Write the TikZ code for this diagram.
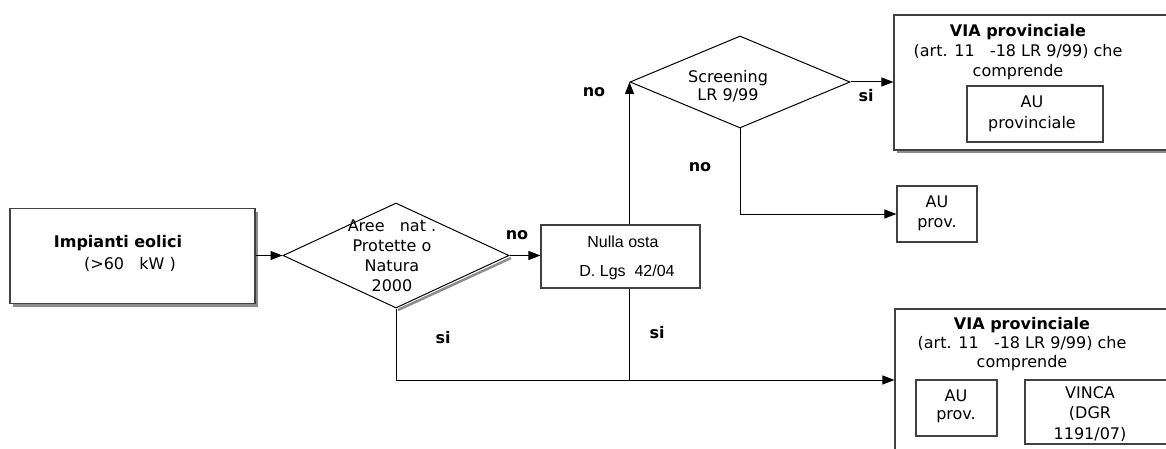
\documentclass[tikz,border=0pt]{standalone}
\usepackage{fontspec}
\setmainfont{DejaVu Sans}
\newfontfamily\arialf{Liberation Sans}
\usetikzlibrary{shapes.geometric,arrows.meta}
\begin{document}
\begin{tikzpicture}[x=1pt,y=-1pt,
  box/.style={draw=black!75, fill=white, line width=1.1pt, inner sep=0pt, rectangle},
  shade/.style={fill=black!45, draw=none},
  dia/.style={diamond, draw=black, fill=white, line width=1pt, inner sep=0pt, aspect=1},
  txt/.style={font=\fontsize{16}{20}\selectfont, align=center, inner sep=0pt},
  lbl/.style={font=\fontsize{16}{20}\selectfont\bfseries, inner sep=0pt},
  conn/.style={draw=black, line width=1pt},
  arr/.style={conn, -{Triangle[length=12pt,width=9pt]}}]
\useasboundingbox (0,0) rectangle (1166,449);
\clip (0,0) rectangle (1166,449);
% shadows
\fill[shade] (13,212) rectangle (258,307);
\draw[black!45, line width=2.5pt] (398,310) -- (511,258);
\fill[shade] (897,18) rectangle (1178,153);
% boxes
\node[box, minimum width=245, minimum height=95] (imp) at (132.5,256) {};
\node[dia, minimum width=226, minimum height=105] (d1) at (396,255.5) {};
\node[box, minimum width=159, minimum height=63] (nulla) at (620.5,256.5) {};
\node[dia, minimum width=220, minimum height=92] (d2) at (740,82) {};
\node[box, minimum width=281, minimum height=135] (topvia) at (1034.5,82.5) {};
\node[box, minimum width=136, minimum height=56] (topau) at (1035,114) {};
\node[box, minimum width=80, minimum height=56] (midau) at (937,214) {};
\node[box, minimum width=280, minimum height=142] (botvia) at (1035,380) {};
\node[box, minimum width=81, minimum height=56] (botau) at (956.5,408) {};
\node[box, minimum width=150, minimum height=64] (vinca) at (1100,412) {};
% texts
\node[txt] (impt1) at (118,243) {\textbf{Impianti eolici}};
\node[txt] (impt2) at (130,264) {(>60\ \ \ kW\ )};
\node[txt] (d1t) at (392,256) {Aree\ \ \ nat\ .\\Protette o\\Natura\\2000};
\node[txt, font=\arialf\fontsize{16}{20}\selectfont] (nullat1) at (623,242) {Nulla osta};
\node[txt, font=\arialf\fontsize{16}{20}\selectfont] (nullat2) at (627,272) {D. Lgs\ \ 42/04};
\node[txt, font=\fontsize{16}{18}\selectfont] (d2t) at (728,86) {Screening\\LR 9/99};
\node[txt] (topviat) at (1018,52) {\textbf{VIA provinciale}\\(art. 11\ \ \ -18 LR 9/99) che\\comprende};
\node[txt, font=\fontsize{16}{21}\selectfont] (topaut) at (1032,114) {AU\\provinciale};
\node[txt] (midaut) at (937,213) {AU\\prov.};
\node[txt, font=\fontsize{16}{19}\selectfont] (botviat) at (1022,344) {\textbf{VIA provinciale}\\(art. 11\ \ \ -18 LR 9/99) che\\comprende};
\node[txt, font=\fontsize{16}{18}\selectfont] (botaut) at (956,406) {AU\\prov.};
\node[txt, font=\fontsize{16}{20.5}\selectfont] (vincat) at (1090,414) {VINCA\\(DGR\\1191/07)};
% connectors
\draw[arr] (imp.east |- d1.west) -- (d1.west);
\draw[arr] (d1.east) -- (nulla.west |- d1.east);
\draw[arr] (d2.west |- nulla.north) -- (d2.west);
\draw[arr] (d2.east) -- (topvia.west |- d2.east);
\draw[arr] (d2.south) |- (midau.west);
\draw[arr] (d1.south) |- (botvia.west);
\draw[conn] (d2.west |- nulla.south) -- (d2.west |- botvia.west);
% labels
\node[lbl] (l1) at (517,235) {no};
\node[lbl] (l2) at (594,92) {no};
\node[lbl] (l3) at (866,96) {si};
\node[lbl] (l4) at (700,167) {no};
\node[lbl] (l5) at (443,338) {si};
\node[lbl] (l6) at (657,333) {si};
\end{tikzpicture}
\end{document}
